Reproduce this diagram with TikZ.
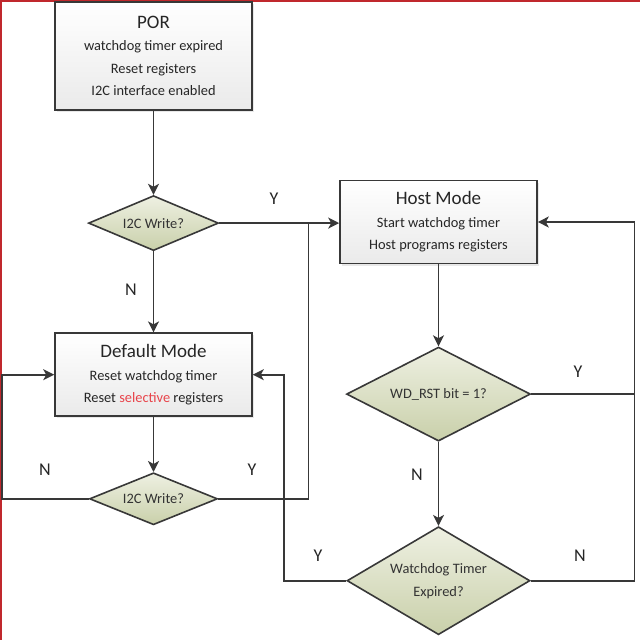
\documentclass[tikz,border=0pt]{standalone}
\usepackage{fontspec}
\setmainfont{Carlito}
\usetikzlibrary{arrows.meta,positioning,shapes.geometric,shadows}
\definecolor{lineGray}{HTML}{383838}
\definecolor{boxBottom}{HTML}{EAEAEA}
\definecolor{sageTop}{HTML}{EEF0E2}
\definecolor{sageBottom}{HTML}{C9D0AA}
\definecolor{frameRed}{HTML}{C0282D}
\definecolor{selectRed}{HTML}{E8434A}
\newcommand{\modetitle}[1]{{\fontsize{19}{24}\selectfont #1}}

\begin{document}
\begin{tikzpicture}[x=1pt, y=-1pt,
  mode/.style={draw=lineGray, line width=1.6pt, align=center, minimum width=197pt, top color=white, bottom color=boxBottom, drop shadow={opacity=0.18, shadow xshift=2pt, shadow yshift=-2pt}, font=\fontsize{14.4}{22.5}\selectfont, text=black!85},
  decision/.style={diamond, aspect=2, inner sep=0pt, draw=lineGray, line width=1.6pt, top color=sageTop, bottom color=sageBottom, align=center, font=\fontsize{14.4}{23}\selectfont, text=black!80},
  arrow/.style={-{Stealth[length=11pt, width=11pt, inset=3pt]}, draw=lineGray, line width=1.6pt},
  link/.style={draw=lineGray, line width=1.6pt},
  lbl/.style={font=\fontsize{18}{20}\selectfont, text=black!85}
]
\useasboundingbox (0,0) rectangle (640,640);
\draw[frameRed, line width=2pt] (1,640) -- (1,1) -- (640,1);

\node[mode, minimum height=108pt] (por) at (153.5,56) {\modetitle{POR}\\ watchdog timer expired\\ Reset registers\\ I2C interface enabled};
\node[decision, minimum width=130pt, minimum height=55pt, below=84pt of por] (write1) {I2C Write?};
\node[mode, minimum height=83pt, below=81pt of write1] (defmode) {\modetitle{Default Mode}\\ Reset watchdog timer\\ Reset \textcolor{selectRed}{selective} registers};
\node[decision, minimum width=128pt, minimum height=52pt, below=55pt of defmode] (write2) {I2C Write?};

\node[mode, minimum height=83pt] (host) at (438.5,222) {\modetitle{Host Mode}\\ Start watchdog timer\\ Host programs registers};
\node[decision, minimum width=184pt, minimum height=94pt, below=82pt of host] (wdrst) {WD\_RST bit = 1?};
\node[decision, minimum width=183pt, minimum height=108pt, below=84pt of wdrst] (wdexp) {Watchdog Timer\\ Expired?};

% bends of the loops
\path (write1.east) ++(89,0) coordinate (ymerge);
\path (write2.west) ++(-87,0) coordinate (nloop);
\path (wdrst.east) ++(103,0) coordinate (rbus);
\path (wdexp.west) ++(-62,0) coordinate (ybus);

\draw[arrow] (por) -- (write1);
\draw[arrow] (write1.east) -- (write1.east -| host.west);
\draw[arrow] (write1) -- (defmode);
\draw[arrow] (defmode) -- (write2);
\draw[link] (write2.east) -| (ymerge);
\draw[arrow] (write2.west) -- (nloop) |- (defmode.west);
\draw[arrow] (host) -- (wdrst);
\draw[arrow] (wdrst.east) -- (rbus) |- (host.east);
\draw[arrow] (wdrst) -- (wdexp);
\draw[link] (wdexp.east) -| (rbus);
\draw[arrow] (wdexp.west) -- (ybus) |- (defmode.east);

\node[lbl] (y1) at (274,199) {Y};
\node[lbl] (n1) at (131,290) {N};
\node[lbl] (n2) at (45,470) {N};
\node[lbl] (y2) at (252,470) {Y};
\node[lbl] (y3) at (578,372) {Y};
\node[lbl] (n3) at (417,475) {N};
\node[lbl] (y4) at (318,556) {Y};
\node[lbl] (n4) at (580,556) {N};
\end{tikzpicture}
\end{document}
